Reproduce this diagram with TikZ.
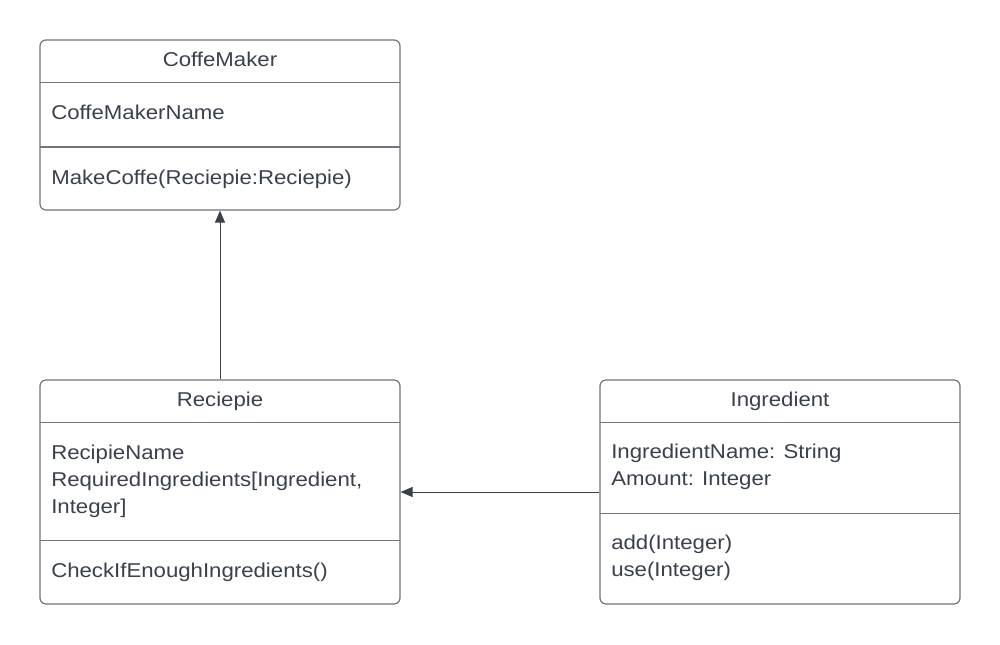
\documentclass[tikz,border=0pt]{standalone}
\usepackage{fontspec}
\setmainfont[FakeStretch=1.11]{Liberation Sans}
\usetikzlibrary{arrows.meta}
\definecolor{ink}{RGB}{58,65,74}
\definecolor{rule}{RGB}{112,117,124}

\begin{document}
\begin{tikzpicture}[
  x=0.75pt, y=-0.75pt,
  cls/.style={draw=rule, line width=0.9pt, rounded corners=4.5pt, minimum width=270pt, inner sep=0pt},
  title/.style={font=\fontsize{15pt}{20.25pt}\selectfont, text=ink, anchor=base, inner sep=0pt},
  attr/.style={title, anchor=base west, align=left},
  sep/.style={draw=rule, line width=0.9pt},
  arrow/.style={-{Triangle[length=9pt, width=7.5pt]}, line width=0.75pt, draw=ink}]
  \useasboundingbox[fill=white] (0,0) rectangle (1000,644);
  % CoffeMaker
  \node[cls, minimum height=127.5pt] (maker) at (220,125) {};
  \node[title] (makert) at (220,66) {CoffeMaker};
  \draw[sep] (40,82.5) -- (400,82.5);
  \node[attr] (makera) at (51,119) {CoffeMakerName};
  \draw[sep] (40,147) -- (400,147);
  \node[attr] (makerm) at (51,184) {MakeCoffe(Reciepie:Reciepie)};
  % Reciepie (base = last line)
  \node[cls, minimum height=168pt] (rec) at (220,492) {};
  \node[title] (rect) at (220,406) {Reciepie};
  \draw[sep] (40,422.5) -- (400,422.5);
  \node[attr] (reca) at (51,513) {RecipieName\\RequiredIngredients[Ingredient,\\Integer]};
  \draw[sep] (40,540.5) -- (400,540.5);
  \node[attr] (recm) at (51,577) {CheckIfEnoughIngredients()};
  % Ingredient
  \node[cls, minimum height=168pt] (ingr) at (780,492) {};
  \node[title] (ingrt) at (780,406) {Ingredient};
  \draw[sep] (600,422.5) -- (960,422.5);
  \node[attr] (ingra) at (611,485) {IngredientName: String\\Amount: Integer};
  \draw[sep] (600,513.5) -- (960,513.5);
  \node[attr] (ingrm) at (611,576) {add(Integer)\\use(Integer)};
  % links
  \draw[arrow] (rec.north) -- (maker.south);
  \draw[arrow] (ingr.west) -- (rec.east);
\end{tikzpicture}
\end{document}
